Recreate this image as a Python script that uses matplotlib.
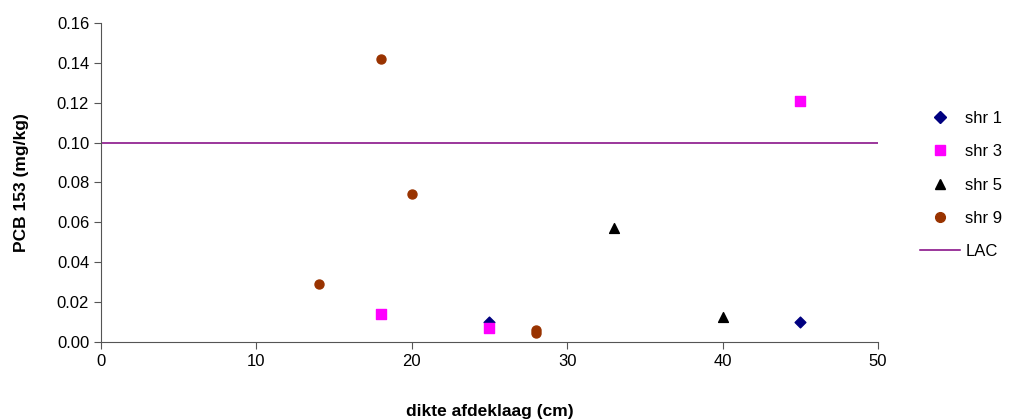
import matplotlib.pyplot as plt
from matplotlib.lines import Line2D

plt.rcParams['font.family'] = ['Liberation Sans', 'DejaVu Sans']

# data
shr1_x = [25, 45]
shr1_y = [0.010, 0.010]
shr3_x = [18, 25, 45]
shr3_y = [0.014, 0.007, 0.121]
shr5_x = [33, 40]
shr5_y = [0.057, 0.0125]
shr9_x = [14, 18, 20, 28, 28]
shr9_y = [0.029, 0.142, 0.074, 0.006, 0.0045]
lac = 0.10

fig = plt.figure(figsize=(10.19, 4.19), dpi=100)
ax = fig.add_axes([0.0991, 0.1838, 0.7625, 0.7613])

ax.axhline(lac, color='#800080', lw=1.1, label='LAC', zorder=1)
ax.scatter(shr9_x, shr9_y, marker='o', s=42, color='#993300', label='shr 9', zorder=3)
ax.scatter(shr5_x, shr5_y, marker='^', s=50, color='black', label='shr 5', zorder=3)
ax.scatter(shr1_x, shr1_y, marker='D', s=30, color='#000080', label='shr 1', zorder=3)
ax.scatter(shr3_x, shr3_y, marker='s', s=42, color='#FF00FF', label='shr 3', zorder=4)

ax.set_xlim(0, 50)
ax.set_ylim(0, 0.16)
ax.set_xticks(range(0, 51, 10))
ax.set_yticks([i * 0.02 for i in range(9)])
ax.set_yticklabels([f'{i * 0.02:.2f}' for i in range(9)])
ax.tick_params(labelsize=12, length=5, color='#555555')
ax.spines['top'].set_visible(False)
ax.spines['right'].set_visible(False)
ax.spines['left'].set_color('#555555')
ax.spines['bottom'].set_color('#555555')

ax.set_xlabel('dikte afdeklaag (cm)', fontsize=12.5, fontweight='bold', labelpad=25)
ax.set_ylabel('PCB 153 (mg/kg)', fontsize=12.5, fontweight='bold', labelpad=20)

handles = [
    Line2D([], [], marker='D', ls='none', color='#000080', markersize=6),
    Line2D([], [], marker='s', ls='none', color='#FF00FF', markersize=7),
    Line2D([], [], marker='^', ls='none', color='black', markersize=7.5),
    Line2D([], [], marker='o', ls='none', color='#993300', markersize=7),
    Line2D([], [], color='#800080', lw=1.1),
]
labels = ['shr 1', 'shr 3', 'shr 5', 'shr 9', 'LAC']
fig.legend(handles, labels, loc='upper left', bbox_to_anchor=(0.895, 0.755),
           frameon=False, fontsize=12, handlelength=2.4, labelspacing=1.1,
           handletextpad=0.3, borderpad=0)

plt.savefig('out.png', dpi=100)
